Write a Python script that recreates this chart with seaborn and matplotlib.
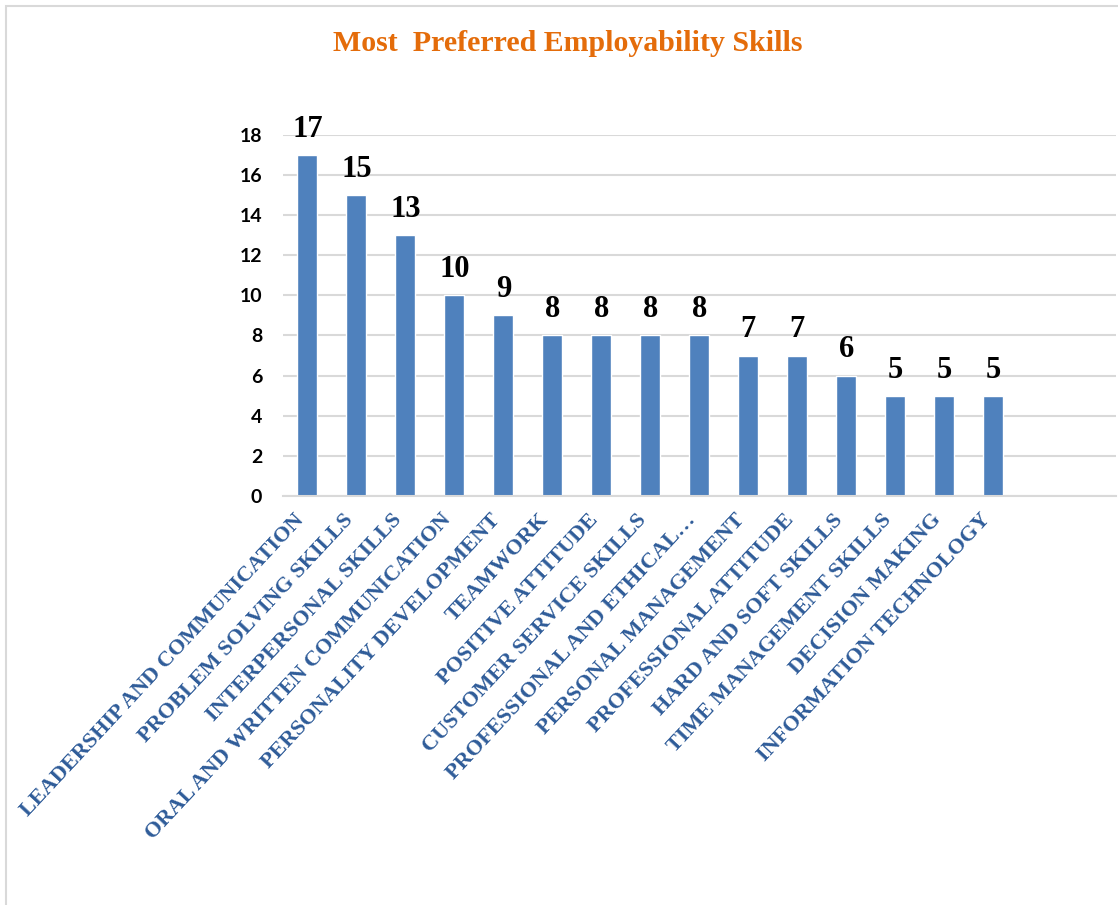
import matplotlib
matplotlib.use("Agg")
import matplotlib.pyplot as plt
import matplotlib.transforms as mtransforms
import seaborn as sns
import pandas as pd
from matplotlib.patches import Rectangle

categories = [
    "LEADERSHIP AND COMMUNICATION",
    "PROBLEM SOLVING SKILLS",
    "INTERPERSONAL SKILLS",
    "ORAL AND WRITTEN COMMUNICATION",
    "PERSONALITY DEVELOPMENT",
    "TEAMWORK",
    "POSITIVE ATTITUDE",
    "CUSTOMER SERVICE SKILLS",
    "PROFESSIONAL AND ETHICAL…",
    "PERSONAL MANAGEMENT",
    "PROFESSIONAL ATTITUDE",
    "HARD AND SOFT SKILLS",
    "TIME MANAGEMENT SKILLS",
    "DECISION MAKING",
    "INFORMATION TECHNOLOGY",
]
values = [17, 15, 13, 10, 9, 8, 8, 8, 8, 7, 7, 6, 5, 5, 5]
yticks = [0, 2, 4, 6, 8, 10, 12, 14, 16, 18]

sns.set_theme(style="white")
df = pd.DataFrame({"skill": categories, "count": values})

fig = plt.figure(figsize=(11.18, 9.05), dpi=100)
ax = fig.add_axes([0.253, 0.452, 0.745, 0.399])

sns.barplot(data=df, x="skill", y="count", color="#4F81BD", saturation=1,
            width=0.41, ax=ax)

ax.set_xlim(-0.5, 16.5)
ax.set_ylim(0, 18)
ax.set_yticks(yticks)
ax.set_yticklabels([str(t) for t in yticks], fontsize=14, fontweight="bold",
                   family="Lato", color="black")
ax.tick_params(axis="y", length=0, pad=15)
ax.tick_params(axis="x", length=0, pad=6)
ax.yaxis.grid(True, color="#D9D9D9", linewidth=1.5)
ax.set_axisbelow(True)
for s in ["top", "right", "left"]:
    ax.spines[s].set_visible(False)
ax.spines["bottom"].set_color("#D9D9D9")
ax.spines["bottom"].set_linewidth(1.5)
ax.set_xlabel("")
ax.set_ylabel("")

ax.set_xticks(range(len(categories)))
ax.set_xticklabels(categories, rotation=47, ha="right", rotation_mode="anchor",
                   fontsize=16, fontweight="bold", family="Liberation Serif",
                   color="#2F5C99")
shift = mtransforms.ScaledTranslation(-10 / 72, -4 / 72, fig.dpi_scale_trans)
for lab in ax.get_xticklabels():
    lab.set_transform(lab.get_transform() + shift)

for i, v in enumerate(values):
    ax.annotate(str(v), xy=(i, v), xytext=(0, 8), textcoords="offset points",
                ha="center", va="bottom", fontsize=22, fontweight="bold",
                family="Liberation Serif", color="black", annotation_clip=False)

fig.text(0.508, 0.952, "Most  Preferred Employability Skills", ha="center",
         va="center", fontsize=21.5, fontweight="bold", family="Liberation Serif",
         color="#E46C0A")

fig.patches.append(Rectangle((0.005, -0.05), 1.1, 1.043, transform=fig.transFigure,
                             fill=False, edgecolor="#D9D9D9", linewidth=1.5))

fig.savefig("out.png", dpi=100, facecolor="white")
